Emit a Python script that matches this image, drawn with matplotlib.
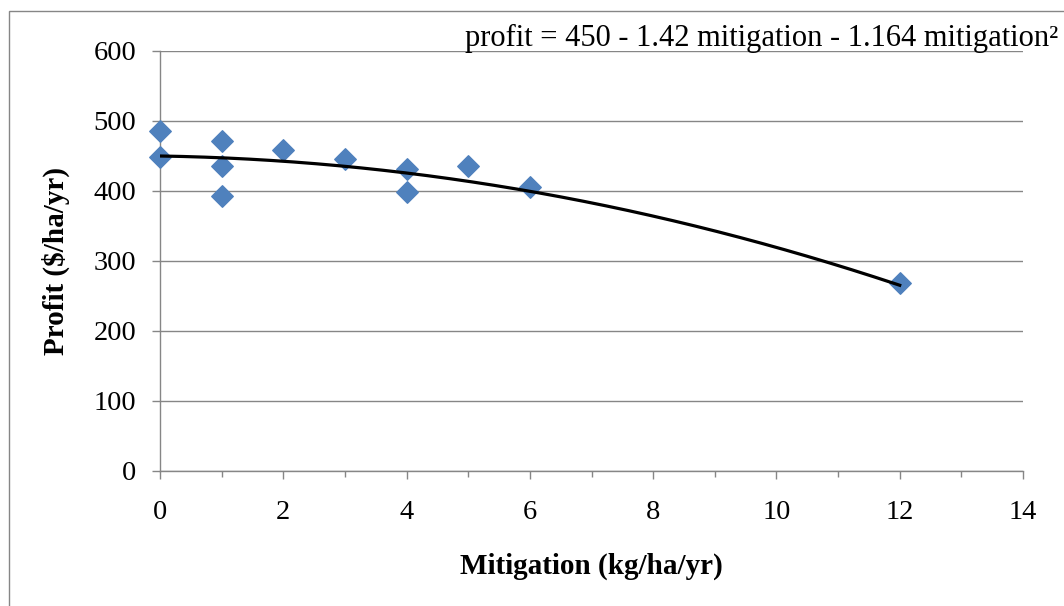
import matplotlib.pyplot as plt
import numpy as np
from matplotlib.patches import Rectangle

# data
mitigation = [0, 0, 1, 1, 1, 2, 3, 4, 4, 5, 6, 12]
profit = [485, 449, 472, 435, 393, 459, 446, 432, 399, 435, 406, 268]

# trend line coefficients (from the equation on the chart)
c0, c1, c2 = 450, -1.42, -1.164

x_ticks = [0, 2, 4, 6, 8, 10, 12, 14]
y_ticks = [0, 100, 200, 300, 400, 500, 600]

blue = '#4F81BD'
grey = '#868686'
font = 'Liberation Serif'

fig = plt.figure(figsize=(10.64, 6.06), dpi=100)
ax = fig.add_axes([160 / 1064, 1 - 471 / 606, 863 / 1064, 420 / 606])

# outer chart border
fig.patches.append(Rectangle((9 / 1064, -0.1), 1.1, 1 - 11 / 606 + 0.1,
                             transform=fig.transFigure, fill=False,
                             edgecolor=grey, linewidth=1.0))

ax.scatter(mitigation, profit, marker='D', s=120, color=blue, zorder=3, clip_on=False)

xs = np.linspace(0, max(mitigation), 200)
ax.plot(xs, c0 + c1 * xs + c2 * xs ** 2, color='black', linewidth=2.3, zorder=4)

ax.set_xlim(0, 14)
ax.set_ylim(0, 600)
ax.set_xticks(x_ticks)
ax.set_xticks(range(0, 15), minor=True)
ax.set_yticks(y_ticks)
ax.grid(axis='y', color=grey, linewidth=1.0)
ax.set_axisbelow(True)

for side in ['top', 'right']:
    ax.spines[side].set_visible(False)
for side in ['left', 'bottom']:
    ax.spines[side].set_color(grey)
    ax.spines[side].set_linewidth(1.0)

ax.tick_params(axis='x', which='major', length=6, width=1, color=grey, pad=15)
ax.tick_params(axis='x', which='minor', length=4, width=1, color=grey)
ax.tick_params(axis='y', length=6, width=1, color=grey, pad=11)
for lab in ax.get_xticklabels() + ax.get_yticklabels():
    lab.set_fontfamily(font)
    lab.set_fontsize(20.5)

ax.set_xlabel('Mitigation (kg/ha/yr)', fontfamily=font, fontsize=21, fontweight='bold')
ax.set_ylabel('Profit ($/ha/yr)', fontfamily=font, fontsize=21, fontweight='bold')
ax.xaxis.set_label_coords(0.5, -0.195)
ax.yaxis.set_label_coords(-0.104, 0.5)

fig.text(1058 / 1064, 1 - 46 / 606,
         'profit = 450 - 1.42 mitigation - 1.164 mitigation²',
         ha='right', va='baseline', fontfamily=font, fontsize=22)

plt.savefig('out.png', dpi=100)
